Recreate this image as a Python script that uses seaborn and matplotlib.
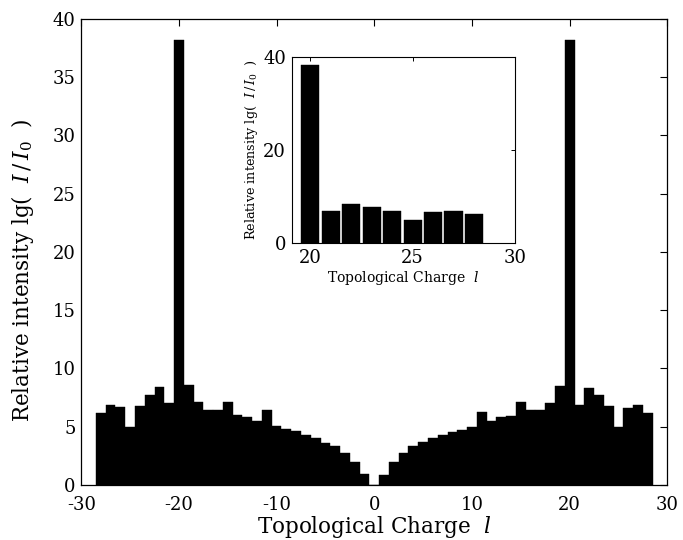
import numpy as np
import pandas as pd
import matplotlib
matplotlib.use("Agg")
import matplotlib.pyplot as plt
import seaborn as sns

# Topological charge spectrum: relative intensity lg(I/I0) for each OAM mode l
charges = list(range(-28, 29))
intensity = [
    6.2, 6.9, 6.7, 5.0, 6.8, 7.7, 8.4, 7.0, 38.2, 8.6,   # -28 .. -19
    7.1, 6.4, 6.4, 7.1, 6.0, 5.8, 5.5, 6.4, 5.1, 4.8,    # -18 .. -9
    4.6, 4.3, 4.0, 3.6, 3.3, 2.7, 2.0, 0.9,              # -8 .. -1
    0.0,                                                 # 0
    0.85, 2.0, 2.7, 3.3, 3.7, 4.0, 4.3, 4.55, 4.75, 5.0, # 1 .. 10
    6.3, 5.45, 5.8, 5.95, 7.1, 6.4, 6.4, 7.05, 8.5,      # 11 .. 19
    38.2, 6.9, 8.35, 7.7, 6.8, 5.0, 6.6, 6.9, 6.2,       # 20 .. 28
]

# Zoomed view of the positive side
inset_charges = list(range(20, 29))
inset_intensity = [intensity[charges.index(c)] for c in inset_charges]

main_df = pd.DataFrame({"l": charges, "lg": intensity})
inset_df = pd.DataFrame({"l": inset_charges, "lg": inset_intensity})

sns.set_theme(style="white")
plt.rcParams["font.family"] = ["DejaVu Serif"]
plt.rcParams["mathtext.fontset"] = "dejavuserif"
plt.rcParams["axes.unicode_minus"] = False
plt.rcParams["text.color"] = "black"
plt.rcParams["axes.labelcolor"] = "black"

fig = plt.figure(figsize=(6.83, 5.40), dpi=100)
ax = fig.add_axes([0.119, 0.102, 0.858, 0.863])

sns.histplot(data=main_df, x="l", weights="lg", discrete=True, ax=ax,
             color="black", alpha=1.0, edgecolor="black", linewidth=0.3,
             shrink=1.0)
ax.set_xlim(-30, 30)
ax.set_ylim(0, 40)
ax.set_xticks([-30, -20, -10, 0, 10, 20, 30])
ax.set_yticks(range(0, 41, 5))
ax.tick_params(direction="in", top=True, right=True, length=5, width=0.8,
               labelsize=13, colors="black", pad=4)
ax.tick_params(axis="x", pad=8)
for s in ax.spines.values():
    s.set_color("black")
    s.set_linewidth(0.9)
ax.set_xlabel(r"Topological Charge  $l$", fontsize=15.5, labelpad=0)
ax.set_ylabel(r"Relative intensity lg(  $I\,/\,I_0$  )", fontsize=15.5)
ax.yaxis.set_label_coords(-0.078, 0.46)

axin = fig.add_axes([0.427, 0.550, 0.327, 0.345])
sns.histplot(data=inset_df, x="l", weights="lg", discrete=True, ax=axin,
             color="black", alpha=1.0, edgecolor="black", linewidth=0.3,
             shrink=0.88)
axin.set_xlim(19.1, 30)
axin.set_ylim(0, 40)
axin.set_xticks([20, 25, 30])
axin.set_yticks([0, 20, 40])
axin.tick_params(direction="in", top=True, right=True, length=3, width=0.7,
                 labelsize=13, colors="black", pad=4)
for s in axin.spines.values():
    s.set_color("black")
    s.set_linewidth(0.8)
axin.set_xlabel(r"Topological Charge  $l$", fontsize=10, labelpad=2)
axin.set_ylabel(r"Relative intensity lg(  $I\,/\,I_0$  )", fontsize=9.2, labelpad=2)

fig.savefig("out.png", dpi=100, facecolor="white")
